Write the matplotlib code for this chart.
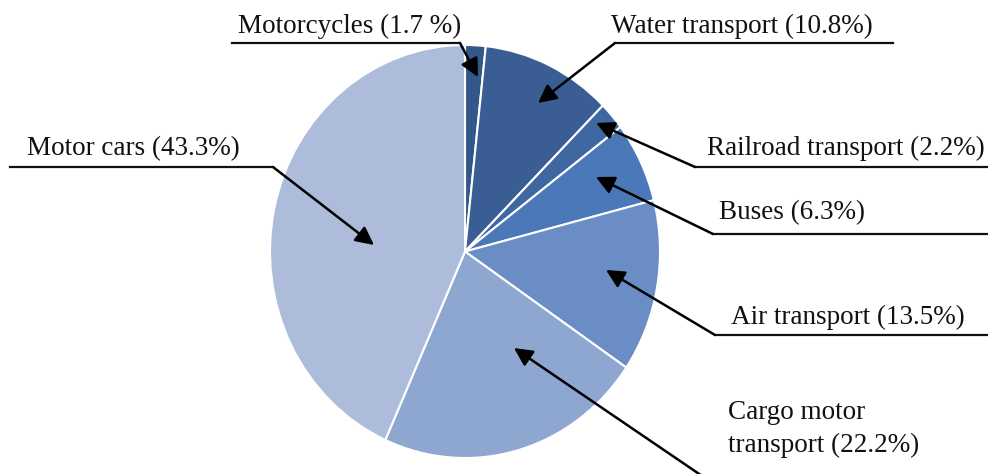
import matplotlib.pyplot as plt

# shares of transport emissions, clockwise from the top
categories = ['Motorcycles', 'Water transport', 'Railroad transport', 'Buses',
              'Air transport', 'Cargo motor transport', 'Motor cars']
shares = [1.7, 10.8, 2.2, 6.3, 13.5, 22.2, 43.3]
labels = ['Motorcycles (1.7 %)', 'Water transport (10.8%)', 'Railroad transport (2.2%)',
          'Buses (6.3%)', 'Air transport (13.5%)', 'Cargo motor\ntransport (22.2%)',
          'Motor cars (43.3%)']
colors = ['#34578a', '#3a5e94', '#3f67a2', '#4a78b8', '#6a8dc6', '#8ea7d1', '#adbcdb']

W, H = 988, 474
fig = plt.figure(figsize=(W / 100, H / 100), dpi=100)

# pie axes, slightly taller than wide like the original
pie_box = (270, 45, 660, 458)   # left, top, right, bottom in px
ax_pie = fig.add_axes([pie_box[0] / W, 1 - pie_box[3] / H,
                       (pie_box[2] - pie_box[0]) / W, (pie_box[3] - pie_box[1]) / H])
ax_pie.pie(shares, colors=colors, startangle=90, counterclock=False,
           wedgeprops=dict(edgecolor='white', linewidth=1.5))
ax_pie.set_aspect('auto')
ax_pie.set_xlim(-1, 1)
ax_pie.set_ylim(-1, 1)
ax_pie.axis('off')

# overlay in pixel coords for the labels and leader lines
ax = fig.add_axes([0, 0, 1, 1])
ax.set_xlim(0, W)
ax.set_ylim(H, 0)
ax.axis('off')

# text (x, y, ha), underline (x0, x1, y), line start, arrow tip
layout = {
    'Motorcycles':          ((350, 26, 'center'), (232, 460, 43), (460, 43), (478, 77)),
    'Water transport':      ((742, 26, 'center'), (615, 893, 43), (615, 43), (538, 103)),
    'Railroad transport':   ((985, 148, 'right'), (695, 988, 167), (695, 167), (596, 123)),
    'Buses':                ((792, 213, 'center'), (713, 988, 234), (713, 234), (596, 177)),
    'Air transport':        ((848, 317, 'center'), (715, 988, 335), (715, 335), (606, 270)),
    'Cargo motor transport': ((728, 429, 'left'), None, (708, 480), (514, 348)),
    'Motor cars':           ((133, 149, 'center'), (10, 273, 167), (273, 167), (374, 245)),
}

for cat, lab in zip(categories, labels):
    (tx, ty, ha), uline, start, tip = layout[cat]
    ax.text(tx, ty, lab, ha=ha, va='center', fontsize=19.5,
            family='Liberation Serif', color='#111111', linespacing=1.4)
    if uline is not None:
        ax.plot([uline[0], uline[1]], [uline[2], uline[2]], color='#111111', lw=1.6)
    ax.annotate('', xy=tip, xytext=start,
                arrowprops=dict(arrowstyle='-|>,head_length=1.1,head_width=0.55',
                                color='black', lw=1.8, shrinkA=0, shrinkB=0))

fig.savefig('out.png', dpi=100)
